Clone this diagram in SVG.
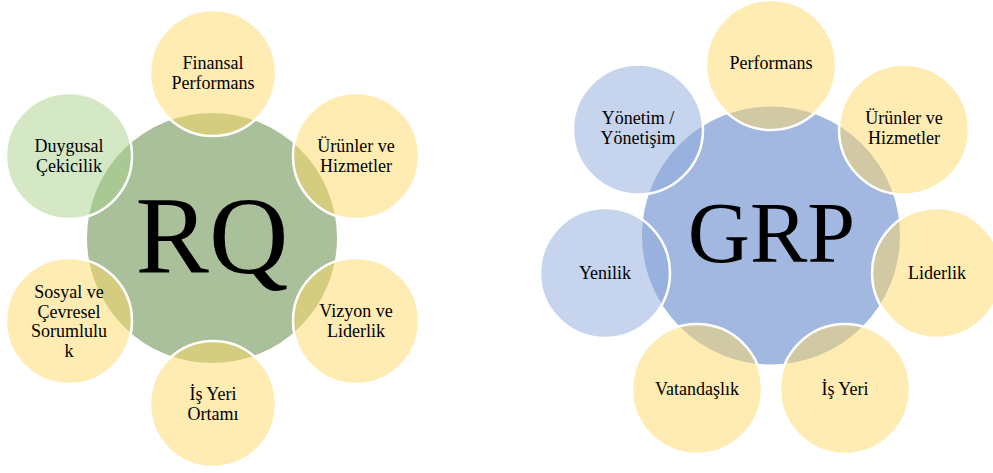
<svg xmlns="http://www.w3.org/2000/svg" width="993" height="473" viewBox="0 0 993 473">
<style>
.main{stroke:#fff;stroke-width:2}
.sat{stroke:#fff;stroke-width:2.5}
.y{fill:#ffd966;fill-opacity:0.5}
.g{fill:#a9d18e;fill-opacity:0.5}
.b{fill:#8faadc;fill-opacity:0.5}
text{font-family:"Liberation Serif","Times New Roman",serif;fill:#000;text-anchor:middle}
.t{font-size:18px}
</style>
<rect width="993" height="473" fill="#fff"/>
<g id="rq">
<circle class="main" cx="212" cy="238" r="126" fill="#a9c09a"/>
<text x="212" y="273" font-size="110">RQ</text>
</g>
<g id="rq-finansal">
<circle class="sat y" cx="213" cy="73" r="63"/>
<text class="t" x="213" y="69">Finansal</text>
<text class="t" x="213" y="88.5">Performans</text>
</g>
<g id="rq-urunler">
<circle class="sat y" cx="356" cy="156" r="63"/>
<text class="t" x="356" y="152">Ürünler ve</text>
<text class="t" x="356" y="171.5">Hizmetler</text>
</g>
<g id="rq-vizyon">
<circle class="sat y" cx="356" cy="321" r="63"/>
<text class="t" x="356" y="317">Vizyon ve</text>
<text class="t" x="356" y="336.5">Liderlik</text>
</g>
<g id="rq-isyeri">
<circle class="sat y" cx="213" cy="404" r="63"/>
<text class="t" x="213" y="400">İş Yeri</text>
<text class="t" x="213" y="419.5">Ortamı</text>
</g>
<g id="rq-sosyal">
<circle class="sat y" cx="69" cy="321" r="63"/>
<text class="t" x="69" y="298">Sosyal ve</text>
<text class="t" x="69" y="317.5">Çevresel</text>
<text class="t" x="69" y="337">Sorumlulu</text>
<text class="t" x="69" y="356.5">k</text>
</g>
<g id="rq-duygusal">
<circle class="sat g" cx="69" cy="156" r="63"/>
<text class="t" x="69" y="152">Duygusal</text>
<text class="t" x="69" y="171.5">Çekicilik</text>
</g>

<g id="grp">
<circle class="main" cx="771" cy="235.5" r="130" fill="#a2b8e0"/>
<text x="771.5" y="262" font-size="86">GRP</text>
</g>
<g id="grp-performans">
<circle class="sat y" cx="771" cy="65" r="65"/>
<text class="t" x="771" y="69">Performans</text>
</g>
<g id="grp-urunler">
<circle class="sat y" cx="904" cy="129.5" r="65"/>
<text class="t" x="904" y="124">Ürünler ve</text>
<text class="t" x="904" y="144">Hizmetler</text>
</g>
<g id="grp-liderlik">
<circle class="sat y" cx="937" cy="273" r="65"/>
<text class="t" x="937" y="279">Liderlik</text>
</g>
<g id="grp-isyeri">
<circle class="sat y" cx="845" cy="389" r="65"/>
<text class="t" x="845" y="395">İş Yeri</text>
</g>
<g id="grp-vatandaslik">
<circle class="sat y" cx="697" cy="389" r="65"/>
<text class="t" x="697" y="395">Vatandaşlık</text>
</g>
<g id="grp-yenilik">
<circle class="sat b" cx="605" cy="273" r="65"/>
<text class="t" x="605" y="279">Yenilik</text>
</g>
<g id="grp-yonetim">
<circle class="sat b" cx="638" cy="129.5" r="65"/>
<text class="t" x="638" y="124">Yönetim /</text>
<text class="t" x="638" y="144">Yönetişim</text>
</g>
<g id="connectors"></g>
</svg>
